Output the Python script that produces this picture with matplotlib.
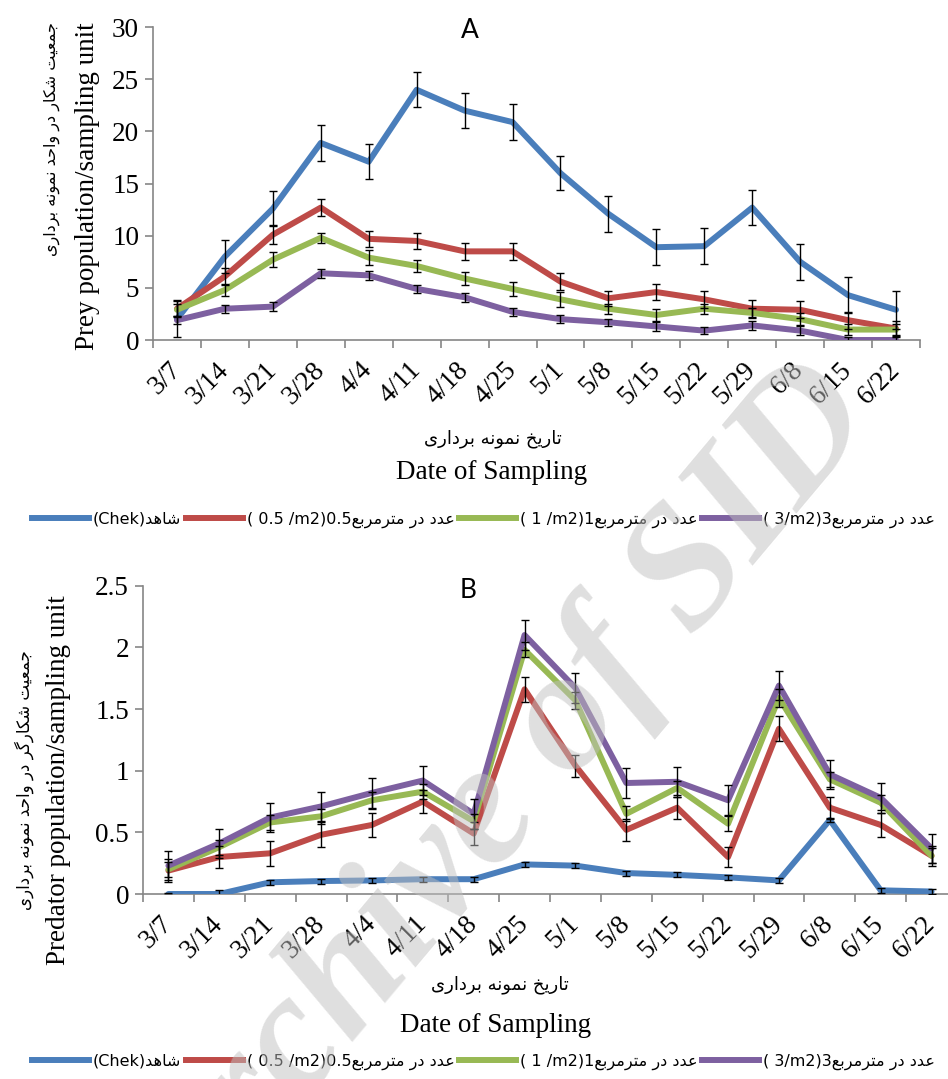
import matplotlib
matplotlib.use("Agg")
import matplotlib.pyplot as plt
import numpy as np

# ---- data ----
dates = ["3/7", "3/14", "3/21", "3/28", "4/4", "4/11", "4/18", "4/25",
         "5/1", "5/8", "5/15", "5/22", "5/29", "6/8", "6/15", "6/22"]

# A: prey population / sampling unit
prey_check = [2.0, 8.0, 12.6, 18.9, 17.1, 24.0, 22.0, 20.9, 16.0, 12.1, 8.9, 9.0, 12.7, 7.5, 4.3, 2.9]
prey_05 = [3.0, 6.1, 10.1, 12.7, 9.7, 9.5, 8.5, 8.5, 5.6, 4.0, 4.6, 3.9, 3.0, 2.9, 1.9, 1.1]
prey_1 = [2.9, 4.8, 7.7, 9.8, 7.9, 7.1, 5.9, 4.9, 3.9, 3.0, 2.4, 3.0, 2.6, 2.0, 1.0, 1.0]
prey_3 = [1.9, 3.0, 3.2, 6.4, 6.2, 4.9, 4.1, 2.7, 2.0, 1.7, 1.3, 0.9, 1.4, 0.9, 0.0, 0.0]
prey_check_err = [1.7, 1.6, 1.7, 1.7, 1.7, 1.7, 1.7, 1.7, 1.6, 1.7, 1.7, 1.7, 1.7, 1.7, 1.7, 1.8]
prey_05_err = [0.8, 0.8, 0.9, 0.8, 0.8, 0.8, 0.8, 0.8, 0.8, 0.7, 0.8, 0.8, 0.8, 0.8, 0.8, 0.7]
prey_1_err = [0.6, 0.6, 0.7, 0.5, 0.7, 0.6, 0.6, 0.7, 0.7, 0.5, 0.6, 0.5, 0.5, 0.6, 0.5, 0.5]
prey_3_err = [0.4, 0.4, 0.4, 0.45, 0.4, 0.4, 0.45, 0.4, 0.35, 0.35, 0.4, 0.35, 0.4, 0.4, 0.3, 0.3]

# B: predator population / sampling unit
pred_check = [0.0, 0.0, 0.095, 0.105, 0.11, 0.12, 0.12, 0.24, 0.23, 0.17, 0.155, 0.135, 0.11, 0.60, 0.03, 0.02]
pred_05 = [0.19, 0.30, 0.33, 0.48, 0.56, 0.75, 0.49, 1.66, 1.04, 0.52, 0.70, 0.30, 1.34, 0.70, 0.56, 0.31]
pred_1 = [0.20, 0.38, 0.58, 0.63, 0.76, 0.83, 0.59, 1.98, 1.57, 0.65, 0.86, 0.57, 1.59, 0.93, 0.74, 0.31]
pred_3 = [0.23, 0.41, 0.62, 0.71, 0.82, 0.92, 0.65, 2.10, 1.67, 0.90, 0.91, 0.76, 1.69, 0.97, 0.78, 0.37]
pred_check_err = [0.01, 0.03, 0.02, 0.02, 0.02, 0.02, 0.02, 0.02, 0.02, 0.02, 0.02, 0.02, 0.02, 0.02, 0.02, 0.02]
pred_05_err = [0.09, 0.09, 0.1, 0.1, 0.1, 0.09, 0.09, 0.1, 0.09, 0.09, 0.09, 0.08, 0.1, 0.09, 0.1, 0.08]
pred_1_err = [0.06, 0.06, 0.06, 0.06, 0.07, 0.06, 0.06, 0.06, 0.07, 0.06, 0.06, 0.06, 0.07, 0.06, 0.06, 0.06]
pred_3_err = [0.12, 0.12, 0.12, 0.12, 0.12, 0.12, 0.12, 0.12, 0.12, 0.12, 0.12, 0.12, 0.12, 0.12, 0.12, 0.12]

colors = ["#4A7EBB", "#BE4B48", "#98B954", "#7D60A0"]

# ---- minimal Persian shaping (matplotlib has no complex text layout) ----
FORMS = {
    "ا": ("\uFE8D", "\uFE8E", None, None),
    "ب": ("\uFE8F", "\uFE90", "\uFE91", "\uFE92"),
    "ت": ("\uFE95", "\uFE96", "\uFE97", "\uFE98"),
    "ج": ("\uFE9D", "\uFE9E", "\uFE9F", "\uFEA0"),
    "ح": ("\uFEA1", "\uFEA2", "\uFEA3", "\uFEA4"),
    "خ": ("\uFEA5", "\uFEA6", "\uFEA7", "\uFEA8"),
    "د": ("\uFEA9", "\uFEAA", None, None),
    "ر": ("\uFEAD", "\uFEAE", None, None),
    "ش": ("\uFEB5", "\uFEB6", "\uFEB7", "\uFEB8"),
    "ع": ("\uFEC9", "\uFECA", "\uFECB", "\uFECC"),
    "م": ("\uFEE1", "\uFEE2", "\uFEE3", "\uFEE4"),
    "ن": ("\uFEE5", "\uFEE6", "\uFEE7", "\uFEE8"),
    "ه": ("\uFEE9", "\uFEEA", "\uFEEB", "\uFEEC"),
    "و": ("\uFEED", "\uFEEE", None, None),
    "ی": ("\uFBFC", "\uFBFD", "\uFBFE", "\uFBFF"),
    "ک": ("\uFB8E", "\uFB8F", "\uFB90", "\uFB91"),
    "گ": ("\uFB92", "\uFB93", "\uFB94", "\uFB95"),
}


def fa(s):
    out = []
    for i, c in enumerate(s):
        if c not in FORMS:
            out.append(c)
            continue
        prev = s[i - 1] if i > 0 else ""
        nxt = s[i + 1] if i + 1 < len(s) else ""
        jp = prev in FORMS and FORMS[prev][2] is not None
        jn = nxt in FORMS and FORMS[c][2] is not None
        iso, fin, ini, med = FORMS[c]
        if jp and jn:
            out.append(med)
        elif jp:
            out.append(fin)
        elif jn:
            out.append(ini)
        else:
            out.append(iso)
    return "".join(reversed(out))


SERIF = "Liberation Serif"
FA = ["DejaVu Sans"]
W, H = 948, 1079

fig = plt.figure(figsize=(W / 100, H / 100), dpi=100)


def px(x, y):
    return x / W, 1 - y / H


def panel(rect, series, errs, ylim, ystep):
    ax = fig.add_axes(rect)
    x = np.arange(len(dates))
    for vals, col in zip(series, colors):
        ax.plot(x, vals, color=col, lw=4.3, solid_joinstyle="round",
                solid_capstyle="round", zorder=3)
    for vals, e in zip(series, errs):
        ax.errorbar(x, vals, yerr=e, fmt="none", ecolor="black", elinewidth=1,
                    capsize=3, capthick=1, zorder=4)
    ax.set_xlim(-0.5, len(dates) - 0.5)
    ax.set_ylim(*ylim)
    ax.set_yticks(np.arange(ylim[0], ylim[1] + ystep / 2, ystep))
    ax.yaxis.set_major_formatter(plt.FuncFormatter(lambda v, p: f"{v:g}"))
    ax.set_xticks(np.arange(-0.5, len(dates), 1.0))
    ax.set_xticklabels([])
    ax.set_xticks(x, dates, minor=True)
    for s in ["top", "right"]:
        ax.spines[s].set_visible(False)
    for s in ["left", "bottom"]:
        ax.spines[s].set_color("#868686")
        ax.spines[s].set_linewidth(1.2)
    ax.tick_params(axis="both", which="major", color="#868686", length=6,
                   width=1.2, direction="out")
    ax.tick_params(axis="y", labelsize=19.5, pad=4)
    ax.tick_params(axis="x", which="minor", length=0, pad=19, labelsize=19.5)
    for t in ax.get_yticklabels():
        t.set_family(SERIF)
    for t in ax.get_xticklabels(minor=True):
        t.set_family(SERIF)
        t.set_rotation(45)
        t.set_rotation_mode("anchor")
        t.set_ha("right")
        t.set_va("center")
    return ax


# panel A
l, b = px(153, 340)
r, t = px(920, 27.2)
axA = panel([l, b, r - l, t - b], [prey_check, prey_05, prey_1, prey_3],
            [prey_check_err, prey_05_err, prey_1_err, prey_3_err], (0, 30), 5)

# panel B
l, b = px(143, 894)
r, t = px(957, 585.7)
axB = panel([l, b, r - l, t - b], [pred_check, pred_05, pred_1, pred_3],
            [pred_check_err, pred_05_err, pred_1_err, pred_3_err], (0, 2.5), 0.5)

# titles
fig.text(*px(470, 31), "A", fontsize=19, family="Lato", ha="center", va="center")
fig.text(*px(468, 591), "B", fontsize=19, family="Lato", ha="center", va="center")

# y labels
fig.text(*px(52, 22), fa("جمعیت شکار در واحد نمونه برداری"), rotation=90,
         family=FA, fontsize=11.5, ha="center", va="top")
fig.text(*px(88, 22), "Prey population/sampling unit", rotation=90,
         family=SERIF, fontsize=19.5, ha="center", va="top")
fig.text(*px(24, 780), fa("جمعیت شکارگر در واحد نمونه برداری"), rotation=90,
         family=FA, fontsize=12, ha="center", va="center")
fig.text(*px(59, 780), "Predator population/sampling unit", rotation=90,
         family=SERIF, fontsize=19.5, ha="center", va="center")

# x labels
fig.text(*px(493, 439), fa("تاریخ نمونه برداری"), family=FA, fontsize=13,
         ha="center", va="center")
fig.text(*px(492, 472), "Date of Sampling", family=SERIF, fontsize=19.5,
         ha="center", va="center")
fig.text(*px(500, 985), fa("تاریخ نمونه برداری"), family=FA, fontsize=13,
         ha="center", va="center")
fig.text(*px(496, 1025), "Date of Sampling", family=SERIF, fontsize=19.5,
         ha="center", va="center")

# legends
labels = ["(Chek)" + fa("شاهد"),
          "( 0.5 /m2)0.5" + fa("عدد در مترمربع"),
          "( 1 /m2)1" + fa("عدد در مترمربع"),
          "( 3/m2)3" + fa("عدد در مترمربع")]
for ly in [520, 1062]:
    handles = [plt.Line2D([], [], color=c, lw=4.3) for c in colors]
    fig.legend(handles, labels, loc="center left", bbox_to_anchor=px(32, ly),
               ncol=4, frameon=False, handlelength=3.55, handletextpad=0.25,
               columnspacing=0.3, borderaxespad=0, borderpad=0,
               prop={"family": FA, "size": 11.5})

# watermark
fig.text(*px(502, 809), "Archive of SID", rotation=50, rotation_mode="anchor",
         fontsize=125, family=SERIF, style="italic", weight="bold",
         color="#c0c0c0", alpha=0.5, ha="center", va="center", zorder=10)

fig.savefig("out.png", dpi=100)
